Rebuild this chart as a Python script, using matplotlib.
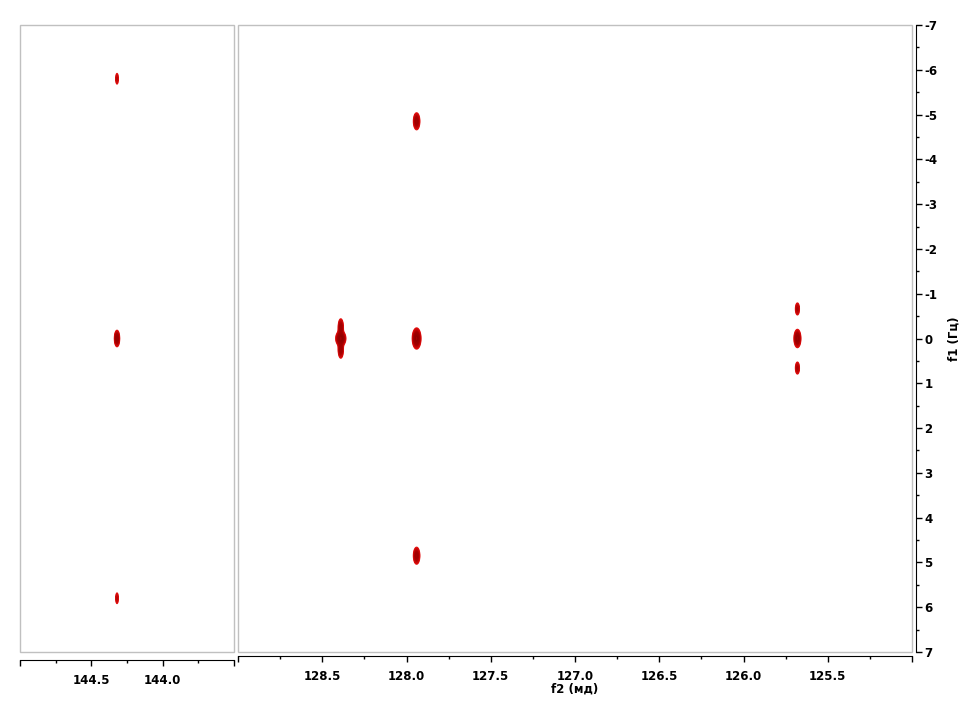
import numpy as np
import matplotlib
matplotlib.use('Agg')
import matplotlib.pyplot as plt
from matplotlib.patches import Rectangle
from matplotlib.ticker import MultipleLocator, FixedLocator, FuncFormatter

# peak list: f2 (ppm), f1 (Hz), height, width f2, width f1
left_f2 = [144.32, 144.32, 144.32]
left_f1 = [-5.8, 0.0, 5.8]
left_amp = [0.3, 0.8, 0.3]
left_sx = [0.006, 0.009, 0.006]
left_sy = [0.08, 0.09, 0.08]

right_f2 = [128.39, 128.39, 128.39, 127.94, 127.94, 127.94, 125.68, 125.68, 125.68]
right_f1 = [-0.25, 0.0, 0.25, -4.85, 0.0, 4.85, -0.66, 0.0, 0.66]
right_amp = [0.6, 1.0, 0.6, 0.6, 1.0, 0.6, 0.4, 0.8, 0.4]
right_sx = [0.008, 0.014, 0.008, 0.010, 0.012, 0.010, 0.007, 0.010, 0.007]
right_sy = [0.10, 0.08, 0.10, 0.10, 0.11, 0.10, 0.08, 0.10, 0.08]

levels = [0.1, 0.14, 0.2, 0.28, 0.38, 0.5, 0.65, 0.85]
colors = ['#e81010', '#d80c0c', '#c80808', '#b80404', '#a80000', '#a00000', '#980000', '#900000']

plt.rcParams['font.family'] = 'DejaVu Sans'
plt.rcParams['font.weight'] = 'bold'
plt.rcParams['axes.unicode_minus'] = False

fig = plt.figure(figsize=(9.6, 7.2), dpi=100)
ax_l = fig.add_axes([20 / 960, 1 - 652 / 720, 214 / 960, 627 / 720])
ax_r = fig.add_axes([238 / 960, 1 - 652 / 720, 674 / 960, 627 / 720])


def surface(xlim, f2, f1, amp, sx, sy):
    x = np.linspace(xlim[0], xlim[1], int(abs(xlim[1] - xlim[0]) / 0.002) + 1)
    y = np.linspace(-7, 7, 1401)
    z = np.zeros((len(y), len(x)))
    for px, py, a, wx, wy in zip(f2, f1, amp, sx, sy):
        gx = np.exp(-0.5 * ((x - px) / wx) ** 2)
        gy = np.exp(-0.5 * ((y - py) / wy) ** 2)
        z += a * np.outer(gy, gx)
    return x, y, z


def draw_peaks(ax, x, y, z):
    ax.contourf(x, y, z, levels=[levels[1], 100], colors=['#a80000'])
    ax.contour(x, y, z, levels=levels, colors=colors, linewidths=0.9)


def style_axes(ax, xlim, out, labels):
    ax.set_xlim(*xlim)
    ax.set_ylim(7, -7)
    for s in ['top', 'left', 'right']:
        ax.spines[s].set_visible(False)
    ax.spines['bottom'].set_position(('outward', out))
    ax.spines['bottom'].set_color('black')
    ax.add_patch(Rectangle((0, 0), 1, 1, transform=ax.transAxes, fill=False,
                           ec='#c0c0c0', lw=1, clip_on=False))
    ax.xaxis.set_major_locator(MultipleLocator(0.5))
    ax.xaxis.set_minor_locator(MultipleLocator(0.25))
    ax.xaxis.set_major_formatter(FuncFormatter(
        lambda v, p: '%.1f' % v if round(v, 2) in labels else ''))
    ax.tick_params(axis='x', which='major', length=4, width=1, labelsize=8.5, pad=6)
    ax.tick_params(axis='x', which='minor', length=2, width=1)
    ax.tick_params(axis='y', left=False, labelleft=False)


x, y, z = surface((145.0, 143.5), left_f2, left_f1, left_amp, left_sx, left_sy)
draw_peaks(ax_l, x, y, z)
style_axes(ax_l, (145.0, 143.5), 6, [144.5, 144.0])

x, y, z = surface((129.0, 125.0), right_f2, right_f1, right_amp, right_sx, right_sy)
draw_peaks(ax_r, x, y, z)
style_axes(ax_r, (129.0, 125.0), 3, [128.5, 128.0, 127.5, 127.0, 126.5, 126.0, 125.5])

ax_r.spines['right'].set_visible(True)
ax_r.spines['right'].set_position(('outward', 3))
ax_r.spines['right'].set_color('black')
ax_r.yaxis.set_ticks_position('right')
ax_r.yaxis.set_major_locator(FixedLocator(list(range(-7, 8))))
ax_r.yaxis.set_minor_locator(MultipleLocator(0.5))
ax_r.tick_params(axis='y', which='major', right=True, labelright=True,
                 length=4, width=1, labelsize=8.5, pad=2)
ax_r.tick_params(axis='y', which='minor', right=True, length=2, width=1)
ax_r.yaxis.set_label_position('right')
ax_r.set_ylabel('f1 (Гц)', fontsize=8.5, fontweight='bold', labelpad=7)
ax_r.set_xlabel('f2 (мд)', fontsize=8.5, fontweight='bold', labelpad=0)

fig.savefig('out.png', dpi=100)
